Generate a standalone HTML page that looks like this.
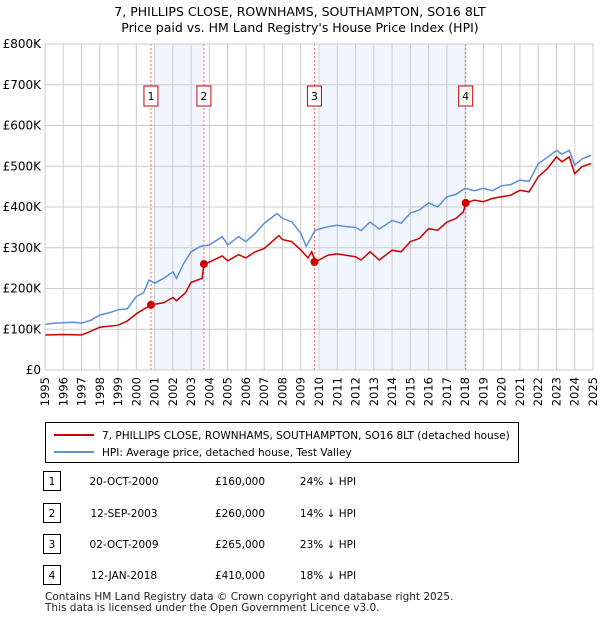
<!DOCTYPE html>
<html><head><meta charset="utf-8">
<style>
body{margin:0;background:#fff;font-family:"Liberation Sans","DejaVu Sans",sans-serif;}
#wrap{position:relative;width:600px;height:620px;overflow:hidden;}
svg text{font-family:"DejaVu Sans","Liberation Sans",sans-serif;}
</style></head>
<body><div id="wrap">
<svg id="chart" width="600" height="620"></svg>
</div>
<script>
const hpiYears=[1995,1995.5,1996,1996.5,1997,1997.5,1998,1998.5,1999,1999.5,2000,2000.4,2000.7,2001,2001.5,2002,2002.2,2002.6,2003,2003.5,2004,2004.7,2005,2005.6,2006,2006.5,2007,2007.7,2008,2008.5,2009,2009.3,2009.8,2010.5,2011,2011.5,2012,2012.3,2012.8,2013.3,2014,2014.5,2015,2015.5,2016,2016.5,2017,2017.5,2018,2018.5,2019,2019.5,2020,2020.5,2021,2021.5,2022,2022.5,2023,2023.3,2023.7,2024,2024.4,2024.9];
const hpiValues=[112,115,116,117,115,122,135,140,148,150,180,190,221,213,225,241,225,262,290,303,307,327,307,327,315,335,360,384,372,364,336,304,343,352,355,352,350,342,363,346,367,360,385,393,410,400,425,431,446,440,446,440,452,455,466,463,506,522,539,530,539,503,518,527];
const paidYears=[1995,1996,1997,1997.5,1998,1999,1999.5,2000,2000.8,2001.5,2002,2002.2,2002.7,2003,2003.6,2003.7,2004,2004.7,2005,2005.6,2006,2006.5,2007,2007.5,2007.8,2008,2008.5,2009,2009.4,2009.6,2009.8,2010.5,2011,2012,2012.3,2012.8,2013.3,2014,2014.5,2015,2015.5,2016,2016.5,2017,2017.5,2017.9,2018.04,2018.5,2019,2019.5,2020,2020.5,2021,2021.5,2022,2022.5,2023,2023.3,2023.7,2024,2024.4,2024.9];
const paidValues=[86,87,86,95,105,110,120,138,160,165,178,170,190,215,225,260,265,280,268,283,275,290,298,318,330,320,315,295,275,290,265,282,285,278,270,290,270,294,290,315,323,347,343,363,372,388,410,417,413,421,425,429,441,437,474,494,523,511,523,482,499,507];
const saleYears=[2000.8,2003.7,2009.75,2018.03];
const saleValues=[160,260,265,410];
const saleLabels=["1","2","3","4"];
const shadeStart=[2001.0,2010.05];
const shadeEnd=[2003.7,2018.03];
const yTicks=[0,100,200,300,400,500,600,700,800];
const yTickLabels=["£0","£100K","£200K","£300K","£400K","£500K","£600K","£700K","£800K"];
const xTicks=[1995,1996,1997,1998,1999,2000,2001,2002,2003,2004,2005,2006,2007,2008,2009,2010,2011,2012,2013,2014,2015,2016,2017,2018,2019,2020,2021,2022,2023,2024,2025];

const NS="http://www.w3.org/2000/svg";
const svg=document.getElementById('chart');
const X0=45,X1=593,Y0=370,Y1=44;
const xs=y=>X0+(y-1995)/30*(X1-X0);
const ys=v=>Y0-v/800*(Y0-Y1);
function el(tag,attrs,parent){const e=document.createElementNS(NS,tag);for(const k in attrs)e.setAttribute(k,attrs[k]);(parent||svg).appendChild(e);return e;}

let t=el('text',{x:300,y:16,'text-anchor':'middle','font-size':12.5,fill:'#000'});
t.textContent="7, PHILLIPS CLOSE, ROWNHAMS, SOUTHAMPTON, SO16 8LT";


t=el('text',{x:300,y:32,'text-anchor':'middle','font-size':12.5,fill:'#000'});
t.textContent="Price paid vs. HM Land Registry's House Price Index (HPI)";



for(let i=0;i<shadeStart.length;i++){
 const r=el('rect',{x:xs(shadeStart[i]),y:Y1,width:xs(shadeEnd[i])-xs(shadeStart[i]),height:Y0-Y1,fill:'#eef3fc',opacity:0.8});
 
 
}
xTicks.forEach(yr=>{
 const l=el('line',{x1:xs(yr),x2:xs(yr),y1:Y1,y2:Y0,stroke:'#ccc','stroke-width':1});
 
 
 const tx=el('text',{transform:`translate(${xs(yr)+4},${Y0+7}) rotate(-90)`,'text-anchor':'end','font-size':11.5,fill:'#000'});
 tx.textContent=yr;
 
 
});
yTicks.forEach((v,i)=>{
 const l=el('line',{x1:X0,x2:X1,y1:ys(v),y2:ys(v),stroke:'#ccc','stroke-width':1});
 
 
 const tx=el('text',{x:X0-4,y:ys(v)+4,'text-anchor':'end','font-size':12,fill:'#000'});
 tx.textContent=yTickLabels[i];
 
 
});
saleYears.forEach((yr,i)=>{
 const l=el('line',{x1:xs(yr),x2:xs(yr),y1:Y1,y2:Y0,stroke:'#ee6666','stroke-width':1,'stroke-dasharray':'2,2'});
 
 
 const g=el('g',{});
 
 
 el('rect',{x:xs(yr)-7,y:86,width:14,height:20,fill:'#fff',stroke:'#c00','stroke-width':1},g);
 const tx=el('text',{x:xs(yr),y:100,'text-anchor':'middle','font-size':11,fill:'#000'},g);
 tx.textContent=saleLabels[i];
});
function pathOf(xa,va){return xa.map((x,i)=>(i?'L':'M')+xs(x).toFixed(1)+','+ys(va[i]).toFixed(1)).join(' ');}
let p=el('path',{d:pathOf(hpiYears,hpiValues),fill:'none',stroke:'#5b8fd4','stroke-width':1.5});


p=el('path',{d:pathOf(paidYears,paidValues),fill:'none',stroke:'#cc0000','stroke-width':1.5});


saleYears.forEach((yr,i)=>{
 const c=el('circle',{cx:xs(yr),cy:ys(saleValues[i]),r:4,fill:'#cc0000'});
 
 
});
const ax=el('rect',{x:X0,y:Y1,width:X1-X0,height:Y0-Y1,fill:'none',stroke:'#ccc'});



const lg=el('g',{});


el('rect',{x:45.5,y:422.5,width:473,height:40,fill:'#fff',stroke:'#000','stroke-width':1},lg);
el('line',{x1:54,x2:94,y1:435,y2:435,stroke:'#cc0000','stroke-width':2},lg);
t=el('text',{x:102,y:439,'font-size':10.5,fill:'#000'},lg);t.textContent="7, PHILLIPS CLOSE, ROWNHAMS, SOUTHAMPTON, SO16 8LT (detached house)";
el('line',{x1:54,x2:94,y1:452,y2:452,stroke:'#5b8fd4','stroke-width':2},lg);
t=el('text',{x:102,y:456,'font-size':10.5,fill:'#000'},lg);t.textContent="HPI: Average price, detached house, Test Valley";

const rows=[["1","20-OCT-2000","£160,000","24% ↓ HPI"],["2","12-SEP-2003","£260,000","14% ↓ HPI"],["3","02-OCT-2009","£265,000","23% ↓ HPI"],["4","12-JAN-2018","£410,000","18% ↓ HPI"]];
const rowY=[482,514,545,576];
rows.forEach((r,i)=>{
 const g=el('g',{});
 
 
 el('rect',{x:43.5,y:rowY[i]-10.5,width:17,height:19,fill:'#fff',stroke:'#000'},g);
 let tx=el('text',{x:52,y:rowY[i]+3,'text-anchor':'middle','font-size':10.5,fill:'#000'},g);tx.textContent=r[0];
 tx=el('text',{x:124,y:rowY[i]+3,'text-anchor':'middle','font-size':10.5,fill:'#000'},g);tx.textContent=r[1];
 tx=el('text',{x:240,y:rowY[i]+3,'text-anchor':'middle','font-size':10.5,fill:'#000'},g);tx.textContent=r[2];
 tx=el('text',{x:328,y:rowY[i]+3,'text-anchor':'middle','font-size':10.5,fill:'#000'},g);tx.textContent=r[3];
});
t=el('text',{x:45,y:600,'font-size':10.5,fill:'#222'});t.textContent="Contains HM Land Registry data © Crown copyright and database right 2025.";


t=el('text',{x:45,y:611,'font-size':10.5,fill:'#222'});t.textContent="This data is licensed under the Open Government Licence v3.0.";


</script>
</body></html>
